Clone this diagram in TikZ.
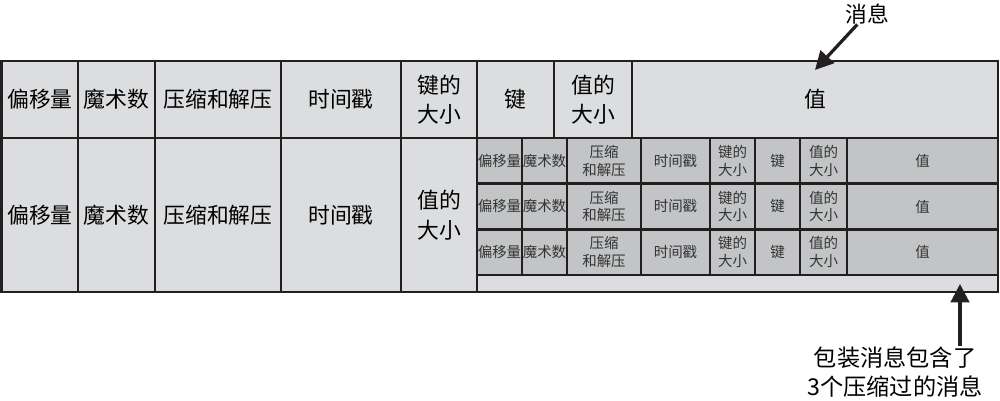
\documentclass[tikz,border=0pt]{standalone}
\usepackage{fontspec}
\newfontfamily\cjk{Noto Sans CJK SC}
\usetikzlibrary{arrows.meta}

\definecolor{cellgray}{RGB}{220,221,223}
\definecolor{innergray}{RGB}{195,196,198}
\definecolor{linegray}{RGB}{35,31,32}

\begin{document}
\begin{tikzpicture}[x=0.025cm, y=-0.025cm,
  cellsize/.style 2 args = {minimum width=#1*0.025cm, minimum height=#2*0.025cm},
  outer/.style = {draw=linegray, line width=2pt, fill=cellgray, inner sep=0pt, align=center, font=\cjk\fontsize{15.5}{21}\selectfont},
  inner/.style = {draw=linegray, line width=1.8pt, fill=innergray, inner sep=0pt, align=center, text=black!80, font=\cjk\fontsize{10.3}{12.5}\selectfont},
  tag/.style = {inner sep=0pt, align=center, font=\cjk\fontsize{16.5}{20.6}\selectfont},
  pointer/.style = {draw=linegray, line width=2.3pt, -{Triangle[length=13pt, width=13pt]}}]

\useasboundingbox (0, 0) rectangle (1000, 401);

% message, first row
\node[outer, cellsize={77}{77}] (off1) at (40, 99.5) {偏移量};
\node[outer, cellsize={77}{77}] (mag1) at (116.5, 99.5) {魔术数};
\node[outer, cellsize={126}{77}] (cmp1) at (218, 99.5) {压缩和解压};
\node[outer, cellsize={120}{77}] (ts1) at (341, 99.5) {时间戳};
\node[outer, cellsize={76}{77}] (ks1) at (439, 99.5) {键的\\大小};
\node[outer, cellsize={77}{77}] (key1) at (515.5, 99.5) {键};
\node[outer, cellsize={78}{77}] (vs1) at (593, 99.5) {值的\\大小};
\node[outer, cellsize={366}{77}] (val1) at (815, 99.5) {值};

% wrapper message, second row
\node[outer, cellsize={77}{154}] (off2) at (40, 215) {偏移量};
\node[outer, cellsize={77}{154}] (mag2) at (116.5, 215) {魔术数};
\node[outer, cellsize={126}{154}] (cmp2) at (218, 215) {压缩和解压};
\node[outer, cellsize={120}{154}] (ts2) at (341, 215) {时间戳};
\node[outer, cellsize={76}{154}] (vs2) at (439, 215) {值的\\大小};
\node[outer, cellsize={521}{154}] (val2) at (737.5, 215) {};

% inner message 1
\node[inner, cellsize={45}{45.7}] (offA) at (499.5, 160.8) {偏移量};
\node[inner, cellsize={45}{45.7}] (magA) at (544.5, 160.8) {魔术数};
\node[inner, cellsize={74}{45.7}] (cmpA) at (604, 160.8) {压缩\\和解压};
\node[inner, cellsize={69}{45.7}] (tsA) at (675.5, 160.8) {时间戳};
\node[inner, cellsize={45}{45.7}] (ksA) at (732.5, 160.8) {键的\\大小};
\node[inner, cellsize={45}{45.7}] (keyA) at (777.5, 160.8) {键};
\node[inner, cellsize={47}{45.7}] (vsA) at (823.5, 160.8) {值的\\大小};
\node[inner, cellsize={151}{45.7}] (valA) at (922.5, 160.8) {值};

% inner message 2
\node[inner, cellsize={45}{45.7}] (offB) at (499.5, 206.5) {偏移量};
\node[inner, cellsize={45}{45.7}] (magB) at (544.5, 206.5) {魔术数};
\node[inner, cellsize={74}{45.7}] (cmpB) at (604, 206.5) {压缩\\和解压};
\node[inner, cellsize={69}{45.7}] (tsB) at (675.5, 206.5) {时间戳};
\node[inner, cellsize={45}{45.7}] (ksB) at (732.5, 206.5) {键的\\大小};
\node[inner, cellsize={45}{45.7}] (keyB) at (777.5, 206.5) {键};
\node[inner, cellsize={47}{45.7}] (vsB) at (823.5, 206.5) {值的\\大小};
\node[inner, cellsize={151}{45.7}] (valB) at (922.5, 206.5) {值};

% inner message 3
\node[inner, cellsize={45}{45.7}] (offC) at (499.5, 252.2) {偏移量};
\node[inner, cellsize={45}{45.7}] (magC) at (544.5, 252.2) {魔术数};
\node[inner, cellsize={74}{45.7}] (cmpC) at (604, 252.2) {压缩\\和解压};
\node[inner, cellsize={69}{45.7}] (tsC) at (675.5, 252.2) {时间戳};
\node[inner, cellsize={45}{45.7}] (ksC) at (732.5, 252.2) {键的\\大小};
\node[inner, cellsize={45}{45.7}] (keyC) at (777.5, 252.2) {键};
\node[inner, cellsize={47}{45.7}] (vsC) at (823.5, 252.2) {值的\\大小};
\node[inner, cellsize={151}{45.7}] (valC) at (922.5, 252.2) {值};

% labels
\node[tag, font=\cjk\fontsize{15.5}{18}\selectfont] (msg) at (867, 14) {消息};
\node[tag] (wrap) at (895, 372) {包装消息包含了\\3个压缩过的消息};

\coordinate (msgtip) at (815, 70);
\coordinate (wraptip) at (960, 284);

\draw[pointer] (msg) -- (msgtip);
\draw[pointer] (wraptip |- wrap.north) -- (wraptip);

\end{tikzpicture}
\end{document}
